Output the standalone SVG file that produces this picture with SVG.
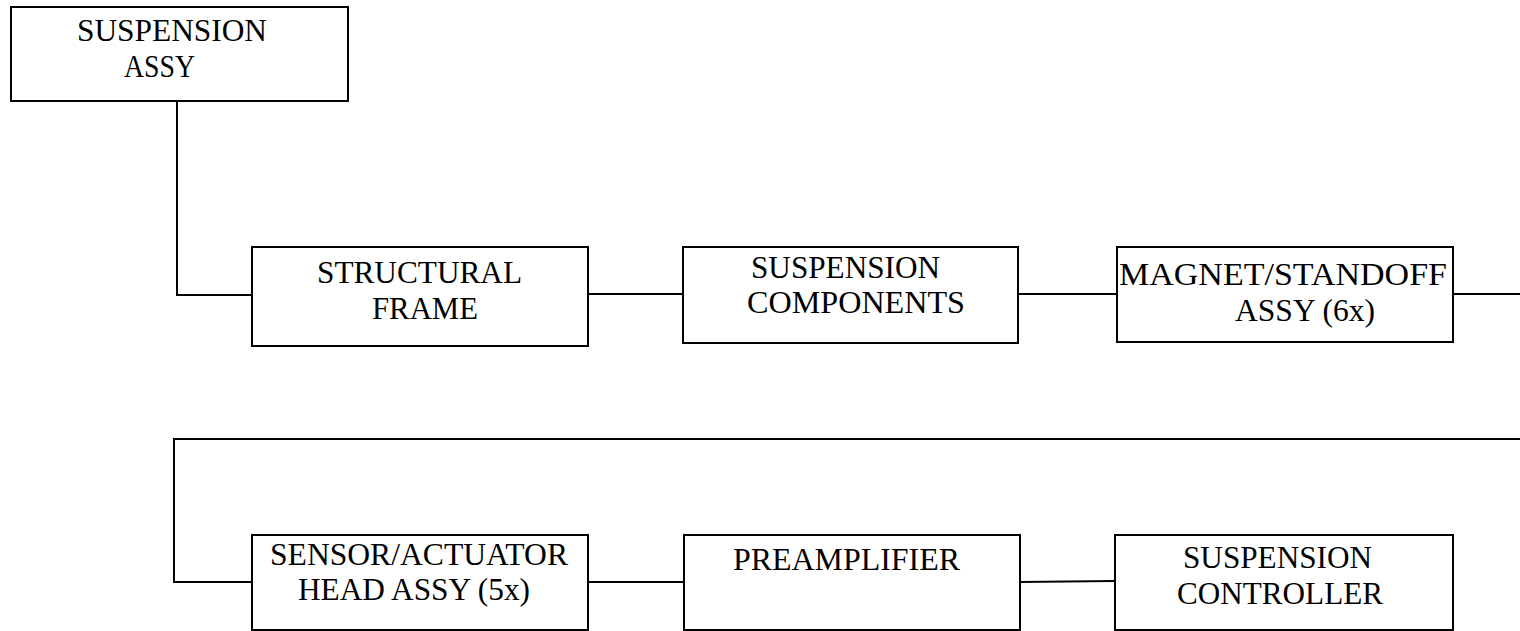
<svg xmlns="http://www.w3.org/2000/svg" width="1520" height="631" viewBox="0 0 1520 631">
<style>
.box{fill:#fff;stroke:#000;stroke-width:2}
.ln{fill:none;stroke:#000;stroke-width:2}
text{font-family:"Liberation Serif","Times New Roman",serif;font-size:32px;fill:#000}
</style>
<rect width="1520" height="631" fill="#fff"/>
<g id="connectors">
<polyline class="ln" points="177,101 177,295 252,295"/>
<line class="ln" x1="588" y1="294" x2="683" y2="294"/>
<line class="ln" x1="1018" y1="294" x2="1117" y2="294"/>
<line class="ln" x1="1453" y1="294" x2="1520" y2="294"/>
<polyline class="ln" points="1520,439 174,439 174,582 252,582"/>
<line class="ln" x1="588" y1="582" x2="684" y2="582"/>
<line class="ln" x1="1020" y1="582" x2="1114" y2="581" stroke="#333" stroke-width="1.5"/>
</g>
<g id="suspension-assy">
<rect class="box" x="11" y="7" width="337" height="94"/>
<text x="77" y="41" textLength="190" lengthAdjust="spacingAndGlyphs">SUSPENSION</text>
<text x="124" y="77" textLength="71" lengthAdjust="spacingAndGlyphs">ASSY</text>
</g>
<g id="structural-frame">
<rect class="box" x="252" y="247" width="336" height="99"/>
<text x="317" y="283" textLength="205" lengthAdjust="spacingAndGlyphs">STRUCTURAL</text>
<text x="372" y="319" textLength="106" lengthAdjust="spacingAndGlyphs">FRAME</text>
</g>
<g id="suspension-components">
<rect class="box" x="683" y="247" width="335" height="96"/>
<text x="751" y="278" textLength="189" lengthAdjust="spacingAndGlyphs">SUSPENSION</text>
<text x="747" y="313" textLength="218" lengthAdjust="spacingAndGlyphs">COMPONENTS</text>
</g>
<g id="magnet-standoff">
<rect class="box" x="1117" y="247" width="336" height="95"/>
<text x="1119" y="285" textLength="328" lengthAdjust="spacingAndGlyphs">MAGNET/STANDOFF</text>
<text x="1235" y="321" textLength="140" lengthAdjust="spacingAndGlyphs">ASSY (6x)</text>
</g>
<g id="sensor-actuator">
<rect class="box" x="252" y="535" width="336" height="95"/>
<text x="270" y="565" textLength="298" lengthAdjust="spacingAndGlyphs">SENSOR/ACTUATOR</text>
<text x="298" y="600" textLength="232" lengthAdjust="spacingAndGlyphs">HEAD ASSY (5x)</text>
</g>
<g id="preamplifier">
<rect class="box" x="684" y="535" width="336" height="95"/>
<text x="733" y="570" textLength="227" lengthAdjust="spacingAndGlyphs">PREAMPLIFIER</text>
</g>
<g id="suspension-controller">
<rect class="box" x="1115" y="535" width="338" height="95"/>
<text x="1183" y="568" textLength="189" lengthAdjust="spacingAndGlyphs">SUSPENSION</text>
<text x="1177" y="604" textLength="206" lengthAdjust="spacingAndGlyphs">CONTROLLER</text>
</g>
</svg>
